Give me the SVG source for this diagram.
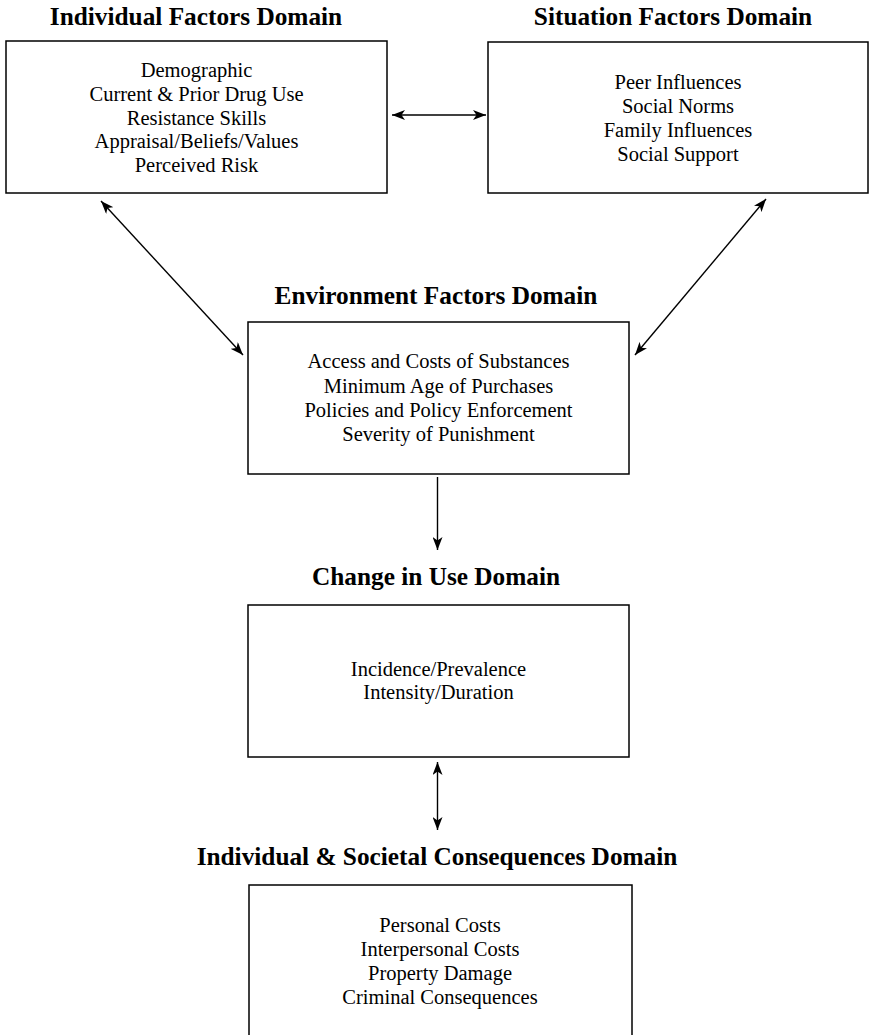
<svg xmlns="http://www.w3.org/2000/svg" width="870" height="1035" viewBox="0 0 870 1035">
<style>
.box{fill:#fff;stroke:#000;stroke-width:1.5}
.title{font-family:"Liberation Serif",serif;font-weight:bold;font-size:25.3px;text-anchor:middle;fill:#000}
.body{font-family:"Liberation Serif",serif;font-size:20.5px;text-anchor:middle;fill:#000}
.conn{stroke:#000;stroke-width:1.4;fill:none}
</style>
<defs>
<marker id="ah" viewBox="0 0 13 10" refX="13" refY="5" markerWidth="13" markerHeight="10" markerUnits="userSpaceOnUse" orient="auto-start-reverse">
<path d="M0,0 L13,5 L0,10 L3.5,5 z" fill="#000"/>
</marker>
</defs>
<rect width="870" height="1035" fill="#fff"/>
<g id="individual">
<text class="title" x="196" y="25">Individual Factors Domain</text>
<rect class="box" x="6" y="41" width="381" height="152"/>
<text class="body" x="196.5" y="77">Demographic</text>
<text class="body" x="196.5" y="101">Current &amp; Prior Drug Use</text>
<text class="body" x="196.5" y="124.5">Resistance Skills</text>
<text class="body" x="196.5" y="148">Appraisal/Beliefs/Values</text>
<text class="body" x="196.5" y="172">Perceived Risk</text>
</g>
<g id="situation">
<text class="title" x="673" y="25">Situation Factors Domain</text>
<rect class="box" x="488" y="42" width="380" height="151"/>
<text class="body" x="678" y="89">Peer Influences</text>
<text class="body" x="678" y="113">Social Norms</text>
<text class="body" x="678" y="137">Family Influences</text>
<text class="body" x="678" y="161">Social Support</text>
</g>
<g id="environment">
<text class="title" x="436" y="304">Environment Factors Domain</text>
<rect class="box" x="248" y="322" width="381" height="152"/>
<text class="body" x="438.5" y="368">Access and Costs of Substances</text>
<text class="body" x="438.5" y="392.5">Minimum Age of Purchases</text>
<text class="body" x="438.5" y="417">Policies and Policy Enforcement</text>
<text class="body" x="438.5" y="441">Severity of Punishment</text>
</g>
<g id="change">
<text class="title" x="436" y="585">Change in Use Domain</text>
<rect class="box" x="248" y="605" width="381" height="152"/>
<text class="body" x="438.5" y="676">Incidence/Prevalence</text>
<text class="body" x="438.5" y="699">Intensity/Duration</text>
</g>
<g id="consequences">
<text class="title" x="437" y="865">Individual &amp; Societal Consequences Domain</text>
<rect class="box" x="249" y="885" width="383" height="170"/>
<text class="body" x="440" y="932">Personal Costs</text>
<text class="body" x="440" y="956">Interpersonal Costs</text>
<text class="body" x="440" y="980">Property Damage</text>
<text class="body" x="440" y="1004">Criminal Consequences</text>
</g>
<g id="connectors">
<line class="conn" x1="392" y1="115" x2="486" y2="115" marker-start="url(#ah)" marker-end="url(#ah)"/>
<line class="conn" x1="101" y1="201" x2="243" y2="355" marker-start="url(#ah)" marker-end="url(#ah)"/>
<line class="conn" x1="766" y1="199" x2="635" y2="355" marker-start="url(#ah)" marker-end="url(#ah)"/>
<line class="conn" x1="437.5" y1="477" x2="437.5" y2="550" marker-end="url(#ah)"/>
<line class="conn" x1="437.5" y1="762" x2="437.5" y2="830" marker-start="url(#ah)" marker-end="url(#ah)"/>
</g>
</svg>
